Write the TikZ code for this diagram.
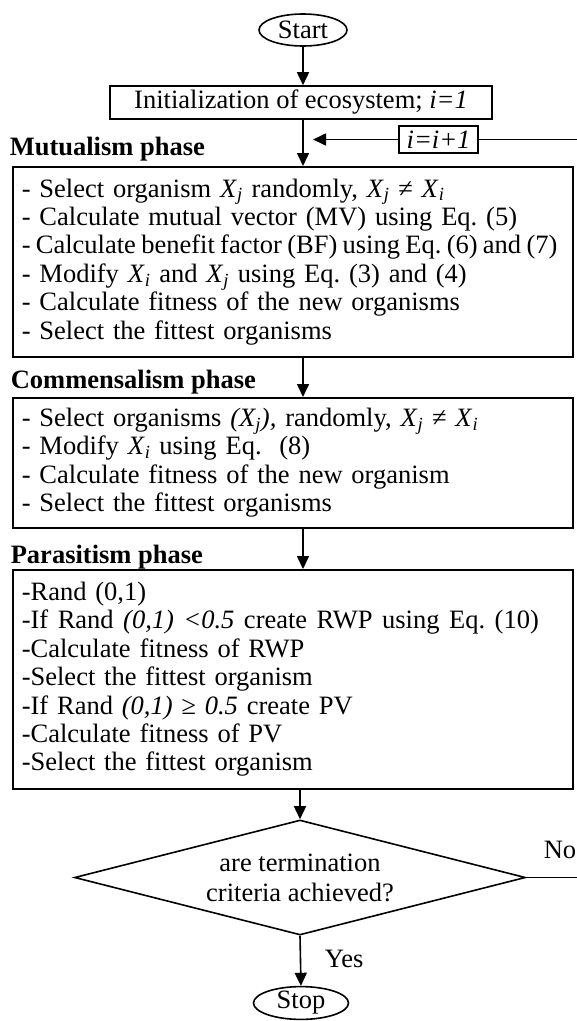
\documentclass[tikz,border=0pt]{standalone}
\usepackage{fontspec}
\setmainfont{Liberation Serif}
\usetikzlibrary{shapes.geometric,arrows.meta}
\newcommand\Xs[1]{\textit{X}\textsubscript{\textit{#1}}}
\begin{document}
\frenchspacing
\begin{tikzpicture}[x=1pt,y=-1pt,
  every node/.style={font=\fontsize{26.5}{28.4}\selectfont},
  line width=1.6pt,
  arr/.style={-{Triangle[length=13pt,width=12pt]}},
  procbox/.style={draw, rectangle, anchor=north west, minimum width=560pt, text width=542pt, inner xsep=9pt, inner ysep=0pt, align=left},
  term/.style={draw, ellipse, inner sep=0pt, minimum height=32pt},
  phase/.style={anchor=base west, inner sep=0pt, font=\fontsize{26.5}{28.4}\selectfont\bfseries},
  lbl/.style={anchor=base west, inner sep=0pt},
]
\clip (0,0) rectangle (577,1021);
\coordinate (ax) at (303,0);
\coordinate (fbr) at (590,0);
\coordinate (tip) at (313,139.5);

\node[term, minimum width=88pt] (start) at (303,30) {Start};
\node[draw, rectangle, minimum width=382pt, minimum height=33pt, inner sep=0pt] (init) at (301,102.5) {Initialization of ecosystem; \textit{i=1}};
\node[draw, rectangle, minimum width=79pt, minimum height=27pt, inner sep=0pt] (inc) at (438.5,139.5) {\textit{i=i+1}};

\node[phase] (mlab) at (9,155) {Mutualism phase};
\node[procbox, minimum height=190pt] (mut) at (12,166) {%
- Select organism \Xs{j} randomly, \Xs{j} ≠ \Xs{i}\\
- Calculate mutual vector (MV) using Eq. (5)\\
\mbox{\spaceskip=5.3pt - Calculate benefit factor (BF) using Eq. (6) and (7)}\\
- Modify \Xs{i} and \Xs{j} using Eq. (3) and (4)\\
- Calculate fitness of the new organisms\\
- Select the fittest organisms\par\vspace*{6pt}};

\node[phase] (clab) at (10,388) {Commensalism phase};
\node[procbox, minimum height=130pt] (com) at (12,397) {%
- Select organisms \textit{(\Xs{j}),} randomly, \Xs{j} ≠ \Xs{i}\\
- Modify \Xs{i} using Eq.\ \ (8)\\
- Calculate fitness of the new organism\\
- Select the fittest organisms\par\vspace*{6pt}};

\node[phase] (plab) at (10,563) {Parasitism phase};
\node[procbox, minimum height=219pt] (par) at (12,569) {%
-Rand (0,1)\\
\mbox{\spaceskip=9.5pt -If Rand \textit{(0,1) <0.5} create RWP using Eq. (10)}\\
-Calculate fitness of RWP\\
-Select the fittest organism\\
-If Rand \textit{(0,1) ≥ 0.5} create PV\\
-Calculate fitness of PV\\
-Select the fittest organism\par\vspace*{6pt}};

\node[draw, diamond, aspect=3.92, minimum width=451pt, minimum height=115pt, inner sep=0pt, align=center] (dec) at (300,877.5) {are termination\\[1.5pt]criteria achieved?};
\node[term, minimum width=95pt] (stop) at (301,1003) {Stop};
\node[lbl] (yes) at (324,967) {Yes};
\node[lbl] (no) at (543,858) {No};

\draw[arr] (start.south) -- (init.north -| start.south);
\draw[arr] (init.south -| ax) -- (mut.north -| ax);
\draw[arr] (mut.south -| ax) -- (com.north -| ax);
\draw[arr] (com.south -| ax) -- (par.north -| ax);
\draw[arr] (par.south -| dec.north) -- (dec.north);
\draw[arr] (dec.south) -- (stop.north);
\draw (dec.east) -- (dec.east -| fbr) -- (inc.east -| fbr) -- (inc.east);
\draw[arr] (inc.west) -- (tip);
\end{tikzpicture}
\end{document}
